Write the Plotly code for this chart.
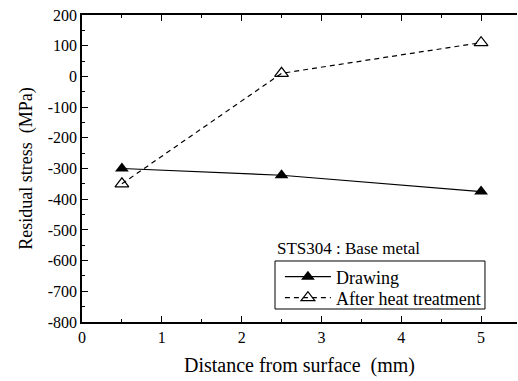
import plotly.graph_objects as go

distance = [0.5, 2.5, 5]
drawing = [-300, -322, -375]
after_heat = [-350, 10, 110]

x_ticks = [0, 1, 2, 3, 4, 5]
y_ticks = [200, 100, 0, -100, -200, -300, -400, -500, -600, -700, -800]
y_labels = [str(v) for v in y_ticks]

FONT = "Liberation Serif, Times New Roman, serif"

fig = go.Figure()
fig.add_trace(go.Scatter(
    x=distance, y=drawing, name="Drawing", mode="lines+markers",
    line=dict(color="black", width=1.2),
    marker=dict(symbol="triangle-up", size=12, color="black"),
    legend="legend",
))
fig.add_trace(go.Scatter(
    x=distance, y=after_heat, name="After heat treatment", mode="lines+markers",
    line=dict(color="black", width=1.2, dash="5px,4px"),
    marker=dict(symbol="triangle-up-open", size=12, color="black", line=dict(width=1.2)),
    legend="legend2",
))

leg_common = dict(
    xanchor="left", yanchor="middle", borderwidth=0, bgcolor="rgba(0,0,0,0)",
    font=dict(family=FONT, size=18), itemwidth=46,
)

fig.update_layout(
    width=518, height=381,
    margin=dict(l=82, r=1, t=15, b=59),
    paper_bgcolor="white", plot_bgcolor="white",
    font=dict(family=FONT, size=16, color="black"),
    showlegend=True,
    legend=dict(x=0.455, y=0.1466, **leg_common),
    legend2=dict(x=0.455, y=0.0782, **leg_common),
    shapes=[dict(
        type="rect", xref="paper", yref="paper",
        x0=0.4437, x1=0.9264, y0=0.0423, y1=0.1987,
        line=dict(color="black", width=1), fillcolor="rgba(0,0,0,0)", layer="above",
    )],
    annotations=[dict(
        text="STS304 : Base metal", x=0.4437, y=0.241, xref="paper", yref="paper",
        xanchor="left", yanchor="middle", showarrow=False,
        font=dict(family=FONT, size=17),
    )],
)
fig.update_xaxes(
    range=[0, 5.45], tickvals=x_ticks, ticktext=[str(v) for v in x_ticks],
    ticks="inside", ticklen=6, tickwidth=1,
    minor=dict(ticks="inside", ticklen=3, dtick=0.5, tick0=0, tickcolor="black"),
    showline=True, linecolor="black", linewidth=1.5, mirror="ticks",
    showgrid=False, zeroline=False, tickcolor="black", automargin=False,
    tickfont=dict(family=FONT, size=16),
    title=dict(text="Distance from surface  (mm)", font=dict(family=FONT, size=20), standoff=13),
)
fig.update_yaxes(
    range=[-800, 200], tickvals=y_ticks, ticktext=y_labels,
    ticks="inside", ticklen=6, tickwidth=1,
    minor=dict(ticks="inside", ticklen=3, dtick=50, tickcolor="black"),
    showline=True, linecolor="black", linewidth=1.5, mirror=False,
    showgrid=False, zeroline=False, tickcolor="black", automargin=False,
    tickfont=dict(family=FONT, size=16),
    title=dict(text="Residual stress  (MPa)", font=dict(family=FONT, size=18), standoff=10),
)

fig.write_html(
    "out.html",
    config={"displayModeBar": False},
    post_script="document.body.style.margin='0';document.body.style.padding='0';",
)
